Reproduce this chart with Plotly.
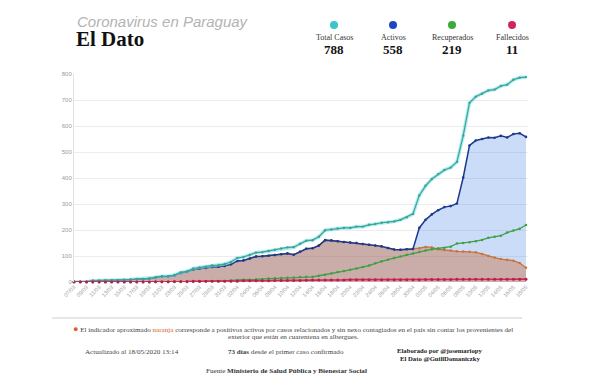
import plotly.graph_objects as go
import pandas as pd

# ---------------- data ----------------
dates = [d.strftime("%d/%m") for d in pd.date_range("2020-03-07", "2020-05-18", freq="D")]

total = [1, 1, 1, 5, 5, 6, 6, 7, 8, 9, 11, 11, 13, 18, 22, 22, 27, 37, 41, 52, 56, 59, 64, 65, 69,
         77, 92, 96, 104, 113, 115, 119, 124, 129, 133, 134, 147, 159, 161, 174, 199, 202, 206, 208, 208,
         213, 213, 220, 223, 228, 230, 233, 239, 249, 262,
         333, 370, 396, 415, 431, 440, 462, 563, 689, 713, 724, 737, 740, 754, 759, 778, 786, 788]

active = [1, 1, 1, 5, 5, 6, 6, 7, 8, 9, 11, 11, 13, 17, 21, 21, 25, 35, 39, 48, 52, 54, 58, 59, 62,
          68, 81, 83, 90, 98, 99, 101, 104, 107, 110, 105, 116, 128, 130, 140, 161, 160, 157, 154, 152,
          150, 146, 143, 140, 137, 131, 125, 124, 126, 127,
          208, 239, 260, 276, 288, 292, 302, 402, 525, 544, 550, 556, 555, 562, 556, 569, 572, 558]

orange = [1, 1, 1, 5, 5, 6, 6, 7, 8, 9, 11, 11, 13, 17, 21, 21, 25, 35, 39, 48, 52, 54, 58, 59, 62,
          68, 81, 83, 90, 98, 99, 101, 104, 107, 110, 105, 116, 128, 130, 140, 161, 160, 157, 154, 152,
          150, 146, 143, 140, 137, 131, 125, 124, 126, 127,
          130, 135, 133, 126, 123, 121, 118, 117, 116, 114, 108, 100, 94, 88, 86, 82, 73, 55]

recovered = [0, 0, 0, 0, 0, 0, 0, 0, 0, 0, 0, 0, 0, 0, 0, 0, 0, 0, 0, 1, 1, 2, 3, 3, 4,
             6, 8, 9, 9, 10, 11, 13, 14, 15, 16, 17, 19, 20, 20, 24, 28, 33, 38, 42, 47,
             52, 58, 63, 72, 80, 86, 92, 98, 105, 110,
             115, 121, 126, 129, 131, 136, 148, 150, 153, 157, 162, 170, 174, 178, 190, 198, 205, 219]

deaths = [0, 0, 0, 0, 0, 0, 0, 0, 0, 0, 0, 0, 0, 1, 1, 1, 2, 2, 2, 3, 3, 3, 3, 3, 3,
          3, 3, 5, 5, 5, 5, 5, 6, 6, 6, 6, 6, 7, 8, 8, 8, 8, 8, 8, 9,
          9, 9, 9, 9, 9, 9, 9, 9, 9, 9,
          9, 10, 10, 10, 10, 10, 11, 11, 11, 11, 11, 11, 11, 11, 11, 11, 11, 11]

stat_labels = ["Total Casos", "Activos", "Recuperados", "Fallecidos"]
stat_values = ["788", "558", "219", "11"]
stat_colors = ["#3cc5c8", "#1c46c2", "#3aaa3a", "#d3245a"]

y_ticks = [0, 100, 200, 300, 400, 500, 600, 700, 800]

# ---------------- layout geometry ----------------
W, H = 600, 389
L, R, T, B = 74, 72, 74, 107
PW, PH = W - L - R, H - T - B


def px(x):
    return (x - L) / PW


def py(y):
    return (H - B - y) / PH


fig = go.Figure()

# active fill (blue)
fig.add_trace(go.Scatter(x=dates, y=active, mode="lines", fill="tozeroy",
                         fillcolor="rgba(70,130,230,0.28)", line=dict(color="rgba(0,0,0,0)", width=0),
                         hoverinfo="skip", showlegend=False))
# orange fill + line
fig.add_trace(go.Scatter(x=dates, y=orange, mode="lines+markers", fill="tozeroy",
                         fillcolor="rgba(200,100,50,0.40)", line=dict(color="#c8733a", width=1.3),
                         marker=dict(size=2.5, color="#c8733a"), cliponaxis=False, showlegend=False))
# recovered
fig.add_trace(go.Scatter(x=dates, y=recovered, mode="lines+markers",
                         line=dict(color="#3e9f45", width=1.3),
                         marker=dict(size=2.5, color="#3e9f45"), cliponaxis=False, showlegend=False))
# active line
fig.add_trace(go.Scatter(x=dates, y=active, mode="lines+markers",
                         line=dict(color="#1c3a8e", width=1.5),
                         marker=dict(size=2.6, color="#1c3a8e"), cliponaxis=False, showlegend=False))
# total halo + line
fig.add_trace(go.Scatter(x=dates, y=total, mode="lines",
                         line=dict(color="rgba(120,225,240,0.6)", width=3.6),
                         hoverinfo="skip", cliponaxis=False, showlegend=False))
fig.add_trace(go.Scatter(x=dates, y=total, mode="lines+markers",
                         line=dict(color="#3ea38f", width=1.2),
                         marker=dict(size=2.4, color="#3ea38f"), cliponaxis=False, showlegend=False))
# deaths
fig.add_trace(go.Scatter(x=dates, y=deaths, mode="lines+markers",
                         line=dict(color="#d8285a", width=1.6),
                         marker=dict(size=3, color="#b5204a"), cliponaxis=False, showlegend=False))

fig.update_xaxes(type="category", range=[0, 72.32], tickmode="array",
                 tickvals=dates[::2], ticktext=dates[::2], tickangle=-45,
                 tickfont=dict(size=5.5, color="#9a9a9a", family="Liberation Sans"),
                 showgrid=False, showline=False, zeroline=False, ticks="")
fig.update_yaxes(range=[0, 800], tickvals=y_ticks, ticktext=[str(v) for v in y_ticks],
                 tickfont=dict(size=6, color="#9a9a9a", family="Liberation Sans"),
                 gridcolor="#ececec", gridwidth=1, showline=True, linecolor="#e2e2e2",
                 zeroline=False, ticks="")

ann = []
shapes = []

# header title
ann.append(dict(x=px(75), y=py(21.5), xref="paper", yref="paper", xanchor="left", yanchor="middle",
                text="<i>Coronavirus en Paraguay</i>", showarrow=False,
                font=dict(size=15, color="#b3b3b3", family="Liberation Sans")))
ann.append(dict(x=px(74), y=py(39), xref="paper", yref="paper", xanchor="left", yanchor="middle",
                text="<b>El Dato</b>", showarrow=False,
                font=dict(size=21, color="#111111", family="Liberation Serif")))

# header stats
stat_x = [334, 393, 452, 512]
for sx, lab, val, col in zip(stat_x, stat_labels, stat_values, stat_colors):
    shapes.append(dict(type="circle", xref="paper", yref="paper", xsizemode="pixel", ysizemode="pixel",
                       xanchor=px(sx), yanchor=py(25), x0=-4, x1=4, y0=-4, y1=4,
                       fillcolor=col, line=dict(width=0)))
    ann.append(dict(x=px(sx), y=py(38), xref="paper", yref="paper", xanchor="center", yanchor="middle",
                    text=lab, showarrow=False,
                    font=dict(size=8, color="#333333", family="Liberation Serif")))
    ann.append(dict(x=px(sx), y=py(49), xref="paper", yref="paper", xanchor="center", yanchor="middle",
                    text="<b>" + val + "</b>", showarrow=False,
                    font=dict(size=13, color="#111111", family="Liberation Serif")))

# separator
shapes.append(dict(type="line", xref="paper", yref="paper", x0=px(52), x1=px(522), y0=py(318), y1=py(318),
                   line=dict(color="#cfcfcf", width=1)))

foot_font = dict(size=7.1, color="#444444", family="Liberation Serif")
ann.append(dict(x=px(293), y=py(329), xref="paper", yref="paper", xanchor="center", yanchor="middle",
                text='<span style="color:#e0602c;font-size:9px">●</span> El indicador aproximado '
                     '<span style="color:#e0602c">naranja</span> corresponde a positivos activos por casos '
                     'relacionados y sin nexo contagiados en el país sin contar los provenientes del',
                showarrow=False, font=foot_font))
ann.append(dict(x=px(293), y=py(337), xref="paper", yref="paper", xanchor="center", yanchor="middle",
                text="exterior que están en cuarentena en albergues.", showarrow=False, font=foot_font))
ann.append(dict(x=px(132), y=py(351.5), xref="paper", yref="paper", xanchor="center", yanchor="middle",
                text="Actualizado al 18/05/2020 13:14", showarrow=False, font=foot_font))
ann.append(dict(x=px(286), y=py(351.5), xref="paper", yref="paper", xanchor="center", yanchor="middle",
                text="<b>73 días</b> desde el primer caso confirmado", showarrow=False, font=foot_font))
ann.append(dict(x=px(440), y=py(350), xref="paper", yref="paper", xanchor="center", yanchor="middle",
                text="<b>Elaborado por @josemariopy</b>", showarrow=False,
                font=dict(size=6.7, color="#222222", family="Liberation Serif")))
ann.append(dict(x=px(440), y=py(358.5), xref="paper", yref="paper", xanchor="center", yanchor="middle",
                text="<b>El Dato @GuillDomaniczky</b>", showarrow=False,
                font=dict(size=6.7, color="#222222", family="Liberation Serif")))
ann.append(dict(x=px(286), y=py(371), xref="paper", yref="paper", xanchor="center", yanchor="middle",
                text="Fuente <b>Ministerio de Salud Pública y Bienestar Social</b>", showarrow=False,
                font=dict(size=7.1, color="#333333", family="Liberation Serif")))

fig.update_layout(width=W, height=H, margin=dict(l=L, r=R, t=T, b=B, pad=0),
                  paper_bgcolor="white", plot_bgcolor="white", showlegend=False,
                  annotations=ann, shapes=shapes, hovermode=False)

fig.write_html("out.html", config={"displayModeBar": False, "staticPlot": True},
               post_script="document.body.style.margin='0';")
